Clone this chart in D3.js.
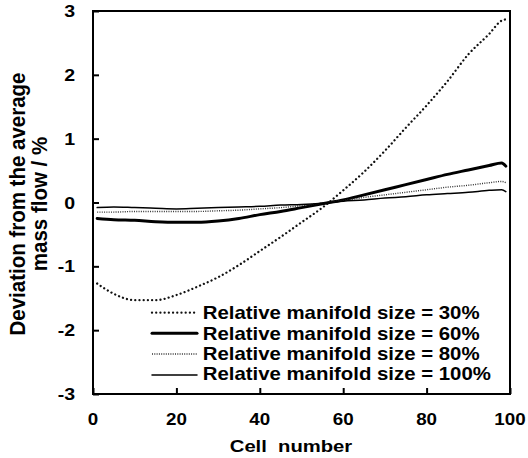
<!DOCTYPE html>
<html>
<head>
<meta charset="utf-8">
<script src="https://cdn.jsdelivr.net/npm/d3@7"></script>
<style>
  html, body { margin: 0; padding: 0; background: #fff; }
  svg { display: block; }
  text { font-family: "Liberation Sans", Arial, sans-serif; font-weight: bold; fill: #000; }
</style>
</head>
<body>
<svg id="chart" width="528" height="458"></svg>
<script>
// ---- data ----
const cells = [1, 5, 10, 15, 20, 25, 30, 35, 40, 45, 50, 55, 60, 65, 70, 75, 80, 85, 90, 95, 98, 99];
const size30  = [-1.27, -1.43, -1.53, -1.53, -1.45, -1.32, -1.17, -0.98, -0.76, -0.54, -0.31, -0.08, 0.19, 0.48, 0.81, 1.17, 1.52, 1.90, 2.32, 2.64, 2.85, 2.87];
const size60  = [-0.25, -0.27, -0.28, -0.30, -0.31, -0.31, -0.29, -0.25, -0.19, -0.14, -0.08, -0.02, 0.04, 0.12, 0.20, 0.28, 0.36, 0.44, 0.51, 0.58, 0.62, 0.57];
const size80  = [-0.15, -0.15, -0.14, -0.14, -0.14, -0.14, -0.13, -0.12, -0.10, -0.08, -0.05, -0.01, 0.03, 0.08, 0.12, 0.16, 0.20, 0.24, 0.27, 0.31, 0.33, 0.31];
const size100 = [-0.08, -0.07, -0.08, -0.09, -0.10, -0.09, -0.08, -0.07, -0.06, -0.04, -0.03, -0.01, 0.02, 0.04, 0.07, 0.09, 0.12, 0.14, 0.16, 0.19, 0.20, 0.17];
const seriesNames = ["Relative manifold size = 30%", "Relative manifold size = 60%", "Relative manifold size = 80%", "Relative manifold size = 100%"];
const xTicks = [0, 20, 40, 60, 80, 100];
const yTicks = [-3, -2, -1, 0, 1, 2, 3];
const xTitle = "Cell  number";
const yTitle = ["Deviation from the average", "mass flow / %"];

// ---- styles ----
const styles = [
  { w: 2.3, dash: "0.01 4.2", cap: "round", color: "#111" },
  { w: 3.0, dash: null, cap: "round", color: "#000" },
  { w: 1.4, dash: "1 1.3", cap: "butt", color: "#333" },
  { w: 1.5, dash: null, cap: "round", color: "#000" }
];
const allSeries = [size30, size60, size80, size100];

const svg = d3.select("#chart");
const L = 93, R = 510, T = 11, B = 394;
const x = d3.scaleLinear().domain([0, 100]).range([L, R]);
const y = d3.scaleLinear().domain([-3, 3]).range([B, T]);

function stxt(g, str, px, py, size, sx, anchor, extra) {
  return g.append("text")
    .attr("transform", `translate(${px},${py}) ${extra || ""} scale(${sx},1)`)
    .attr("text-anchor", anchor)
    .style("font-size", size + "px")
    .style("white-space", "pre")
    .text(str);
}

// ticks (inward)
svg.append("g").attr("transform", `translate(0,${B})`)
  .call(d3.axisBottom(x).tickValues(xTicks).tickSizeInner(-6).tickSizeOuter(0).tickFormat(""))
  .call(g => g.select(".domain").remove())
  .call(g => g.selectAll("line").attr("stroke", "#000").attr("stroke-width", 2));
svg.append("g").attr("transform", `translate(${L},0)`)
  .call(d3.axisLeft(y).tickValues(yTicks).tickSizeInner(-6).tickSizeOuter(0).tickFormat(""))
  .call(g => g.select(".domain").remove())
  .call(g => g.selectAll("line").attr("stroke", "#000").attr("stroke-width", 2));

// frame
svg.append("rect").attr("x", L).attr("y", T).attr("width", R - L).attr("height", B - T)
  .attr("fill", "none").attr("stroke", "#000").attr("stroke-width", 2);

// tick labels
const labels = svg.append("g");
xTicks.forEach(v => stxt(labels, String(v), x(v), 425, 16.5, 1.14, "middle"));
yTicks.forEach(v => stxt(labels, String(v), 75, y(v) + 6, 17, 1.15, "end"));

// axis titles
stxt(labels, xTitle, 291, 452, 17, 1.19, "middle");
labels.append("text")
  .attr("transform", `translate(25,204) rotate(-90) scale(1,1.12)`)
  .attr("text-anchor", "middle").style("font-size", "20.5px").text(yTitle[0]);
labels.append("text")
  .attr("transform", `translate(46.5,204) rotate(-90) scale(1,1.12)`)
  .attr("text-anchor", "middle").style("font-size", "20.5px").text(yTitle[1]);

// lines
const line = d3.line().x((d, i) => x(cells[i])).y(d => y(d)).curve(d3.curveMonotoneX);
allSeries.forEach((s, i) => {
  const st = styles[i];
  svg.append("path").datum(s).attr("d", line)
    .attr("fill", "none").attr("stroke", st.color).attr("stroke-width", st.w)
    .attr("stroke-linecap", st.cap).attr("stroke-linejoin", "round")
    .attr("stroke-dasharray", st.dash);
});

// legend
const leg = svg.append("g");
const legLineY = [312.7, 333.3, 354, 375];
const legTextY = [319.3, 339.6, 360, 380.3];
seriesNames.forEach((n, i) => {
  const st = styles[i];
  leg.append("line").attr("x1", 152).attr("x2", 197).attr("y1", legLineY[i]).attr("y2", legLineY[i])
    .attr("stroke", st.color).attr("stroke-width", st.w).attr("stroke-linecap", st.cap)
    .attr("stroke-dasharray", st.dash);
  stxt(leg, n, 202.7, legTextY[i], 18.6, 1.096, "start");
});
</script>
</body>
</html>
